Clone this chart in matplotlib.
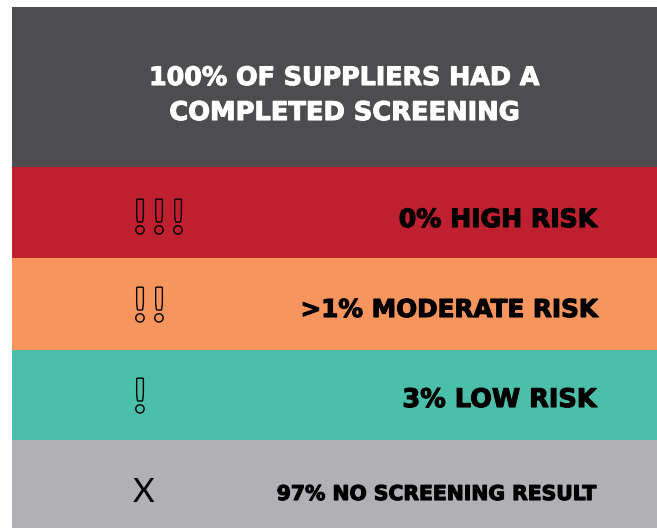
import matplotlib.pyplot as plt
import matplotlib.patheffects as pe

# rows of the infographic, top to bottom
labels = ["0% HIGH RISK", ">1% MODERATE RISK", "3% LOW RISK", "97% NO SCREENING RESULT"]
icons = ["!!!", "!!", "!", "X"]
colors = ["#be202f", "#f7955e", "#4bbfa9", "#b1b1b5"]
title_lines = ["100% OF SUPPLIERS HAD A", "COMPLETED SCREENING"]

HEADER_COLOR = "#4d4d4f"
W, H = 657, 528
LEFT, TOP = 12, 7
HEADER_BOTTOM = 167
ROW_EDGES = [167, 258, 350, 440, 528]
ICON_X, ICON_STEP = 140, 19

fig = plt.figure(figsize=(W / 100, H / 100), dpi=100)
ax = fig.add_axes([0, 0, 1, 1])
ax.set_xlim(0, W)
ax.set_ylim(H, 0)
ax.axis("off")
renderer = fig.canvas.get_renderer()


def fit_width(txt, width):
    # scale the font so the text spans the same width as in the original
    ext = txt.get_window_extent(renderer)
    txt.set_fontsize(txt.get_fontsize() * width / ext.width)


heavy = [pe.withStroke(linewidth=0.8, foreground="black")]
heavy_white = [pe.withStroke(linewidth=0.8, foreground="white")]

# header band
ax.barh(
    [(TOP + HEADER_BOTTOM) / 2],
    [W - LEFT],
    height=HEADER_BOTTOM - TOP,
    left=LEFT,
    color=HEADER_COLOR,
)
for line, base, width in zip(title_lines, [85, 120], [390, 350]):
    t = ax.text(345, base, line, color="white", fontsize=19, fontweight="bold",
                family="DejaVu Sans", ha="center", va="baseline",
                path_effects=heavy_white)
    fit_width(t, width)

# risk rows
centers = [(a + b) / 2 for a, b in zip(ROW_EDGES[:-1], ROW_EDGES[1:])]
heights = [b - a for a, b in zip(ROW_EDGES[:-1], ROW_EDGES[1:])]
ax.barh(centers, [W - LEFT] * len(labels), height=heights, left=LEFT,
        color=colors)

label_base = [227, 317, 407, 500]
label_width = [198, 297, 194, 319]
icon_base = [233, 321, 412, 502]
for lab, icon, col, base, width, ib in zip(labels, icons, colors, label_base,
                                          label_width, icon_base):
    t = ax.text(597, base, lab, color="black", fontsize=19, fontweight="bold",
                family="DejaVu Sans", ha="right", va="baseline",
                path_effects=heavy)
    fit_width(t, width)
    if icon == "X":
        ax.text(143, ib, icon, color="black", fontsize=24, fontweight="normal",
                family="Lato", ha="center", va="baseline")
        continue
    for i, ch in enumerate(icon):
        ax.text(ICON_X + i * ICON_STEP, ib, ch, color=col, fontsize=33,
                fontweight="bold", family="Lato", ha="center", va="baseline",
                path_effects=[pe.withStroke(linewidth=2, foreground="black")])

fig.savefig("out.png", dpi=100)
